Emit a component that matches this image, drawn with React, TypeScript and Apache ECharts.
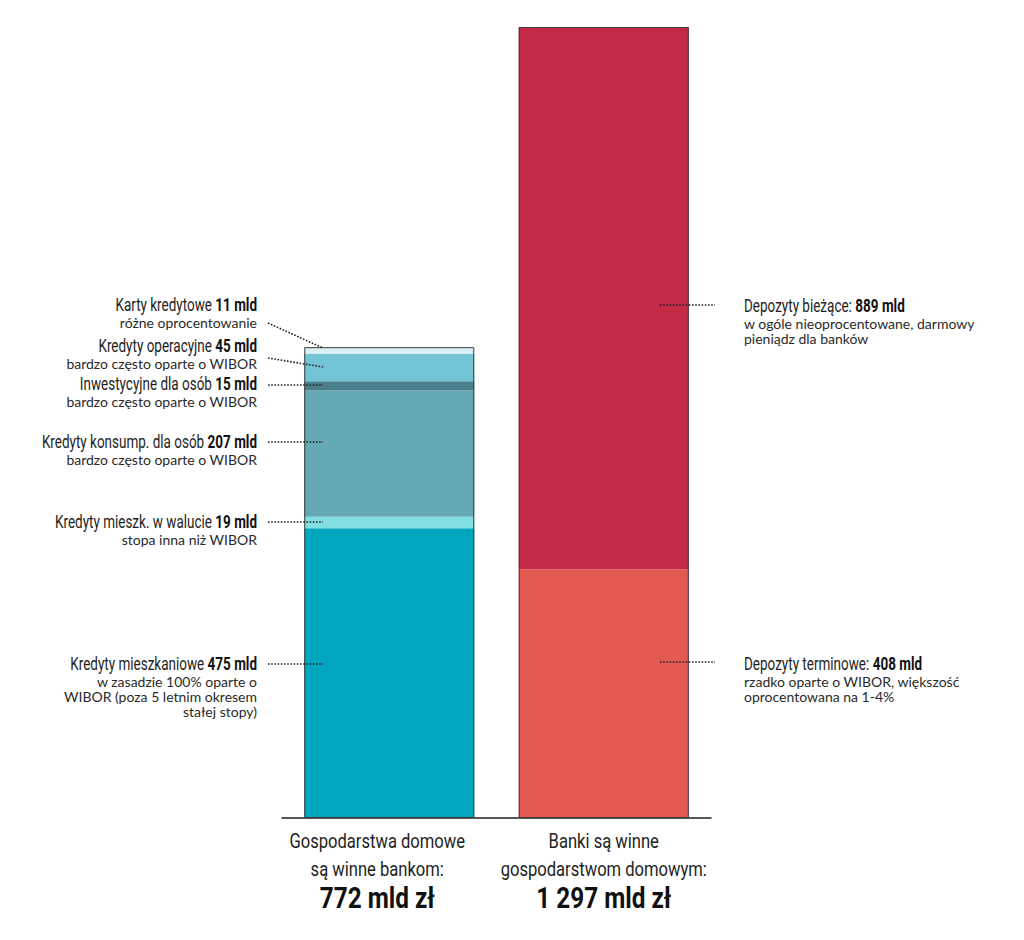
import React, { useEffect, useRef } from "react";
import * as echarts from "echarts";

// ---- data ----
const barCategories = ["Gospodarstwa domowe\nsą winne bankom:", "Banki są winne\ngospodarstwom domowym:"];
const totals = [772, 1297];

const leftNames = [
  "Kredyty mieszkaniowe",
  "Kredyty mieszk. w walucie",
  "Kredyty konsump. dla osób",
  "Inwestycyjne dla osób",
  "Kredyty operacyjne",
  "Karty kredytowe",
];
const leftValues = [475, 19, 207, 15, 45, 11];
const leftNotes = [
  ["w zasadzie 100% oparte o", "WIBOR (poza 5 letnim okresem", "stałej stopy)"],
  ["stopa inna niż WIBOR"],
  ["bardzo często oparte o WIBOR"],
  ["bardzo często oparte o WIBOR"],
  ["bardzo często oparte o WIBOR"],
  ["różne oprocentowanie"],
];

const rightNames = ["Depozyty terminowe:", "Depozyty bieżące:"];
const rightValues = [408, 889];
const rightNotes = [
  ["rzadko oparte o WIBOR, większość", "oprocentowana na 1-4%"],
  ["w ogóle nieoprocentowane, darmowy", "pieniądz dla banków"],
];

// ---- styling / layout (not data) ----
const leftColors = ["#00a6bd", "#82dfe2", "#65a9b5", "#4a7f8c", "#73c5d6", "#d9f1f5"];
const rightColors = ["#e35a52", "#c42a46"];
// annotation layout: title centre y, leader line [x1,y1,x2,y2]
const leftLayout = [
  { ty: 664, line: [268, 664, 323, 664] },
  { ty: 522, line: [268, 522, 323, 522] },
  { ty: 442, line: [268, 442, 323, 442] },
  { ty: 384, line: [268, 385, 323, 385] },
  { ty: 346, line: [268, 358, 323, 367] },
  { ty: 305, line: [268, 323, 323, 348] },
];
const rightLayout = [
  { ty: 664, line: [660, 662, 715, 662] },
  { ty: 306, line: [660, 305, 715, 305] },
];
const bottomOffsets = [-12, 0];

const COND = 'Roboto, "DejaVu Sans", sans-serif';
const LATO = 'Lato, "Open Sans", sans-serif';
const INK = "#1e1e1e";
const TITLE_SCALE = 0.75;
const BOTTOM_SCALE = 0.79;
const TOTAL_SCALE = 0.84;

function fmt(n: number) {
  return String(n).replace(/\B(?=(\d{3})+(?!\d))/g, " ");
}

export default function App() {
  const ref = useRef<HTMLDivElement>(null);
  useEffect(() => {
    document.body.style.margin = "0";
    const chart = echarts.init(ref.current!, null, { renderer: "svg" });

    const series: any[] = [];
    leftValues.forEach((v, i) => {
      series.push({
        type: "bar",
        name: leftNames[i],
        stack: "s",
        barWidth: 170,
        barGap: "-100%",
        data: [v, "-"],
        itemStyle: { color: leftColors[i] },
        silent: true,
      });
    });
    rightValues.forEach((v, i) => {
      series.push({
        type: "bar",
        name: rightNames[i],
        stack: "s",
        barWidth: 170,
        barGap: "-100%",
        data: ["-", v],
        itemStyle: { color: rightColors[i] },
        silent: true,
      });
    });
    series.push({
      type: "bar",
      name: "outline",
      barWidth: 170,
      barGap: "-100%",
      data: totals,
      z: 10,
      silent: true,
      itemStyle: { color: "rgba(0,0,0,0)", borderColor: "#3a3a3a", borderWidth: 1 },
    });

    chart.setOption({
      animation: false,
      grid: { left: 282, right: 313, top: 27, bottom: 122 },
      xAxis: {
        type: "category",
        data: barCategories,
        axisTick: { show: false },
        axisLine: { lineStyle: { color: "#222", width: 1.5 } },
        axisLabel: { show: false },
      },
      yAxis: { type: "value", min: 0, max: 1297, show: false, splitLine: { show: false } },
      series,
    });

    const graphic: any[] = [];
    const titleRich = {
      a: { fontFamily: COND, fontSize: 18, fontWeight: "normal", fill: INK, color: INK },
      b: { fontFamily: COND, fontSize: 18, fontWeight: "bold", fill: "#111", color: "#111" },
    };
    const addAnno = (
      name: string,
      value: number,
      notes: string[],
      lay: { ty: number; line: number[] },
      x: number,
      align: string
    ) => {
      graphic.push({
        type: "text",
        x,
        y: lay.ty,
        scaleX: TITLE_SCALE,
        silent: true,
        style: {
          text: `{a|${name} }{b|${value} mld}`,
          rich: titleRich,
          align,
          verticalAlign: "middle",
        },
      });
      notes.forEach((n, k) => {
        graphic.push({
          type: "text",
          x,
          y: lay.ty + 17 + k * 15,
          silent: true,
          style: {
            text: n,
            fontFamily: LATO,
            fontSize: 14,
            fill: "#2a2a2a",
            align,
            verticalAlign: "middle",
          },
        });
      });
      graphic.push({
        type: "line",
        silent: true,
        z: 100,
        shape: { x1: lay.line[0], y1: lay.line[1], x2: lay.line[2], y2: lay.line[3] },
        style: { stroke: "#222", lineWidth: 1.6, lineDash: [1.6, 1.6] },
      });
    };
    leftValues.forEach((v, i) => addAnno(leftNames[i], v, leftNotes[i], leftLayout[i], 257, "right"));
    rightValues.forEach((v, i) => addAnno(rightNames[i], v, rightNotes[i], rightLayout[i], 744, "left"));

    // bottom category labels, placed at the axis' own band centres
    barCategories.forEach((c, i) => {
      const cx = (chart.convertToPixel({ xAxisIndex: 0 }, i) as number) + bottomOffsets[i];
      const lines = c.split("\n");
      lines.forEach((l, k) => {
        graphic.push({
          type: "text",
          x: cx,
          y: 841 + k * 28,
          scaleX: BOTTOM_SCALE,
          silent: true,
          style: { text: l, fontFamily: COND, fontSize: 21, fill: INK, align: "center", verticalAlign: "middle" },
        });
      });
      graphic.push({
        type: "text",
        x: cx,
        y: 898,
        scaleX: TOTAL_SCALE,
        silent: true,
        style: {
          text: `${fmt(totals[i])} mld zł`,
          fontFamily: COND,
          fontSize: 29,
          fontWeight: "bold",
          fill: "#111",
          align: "center",
          verticalAlign: "middle",
        },
      });
    });

    chart.setOption({ graphic });
    return () => chart.dispose();
  }, []);
  return <div ref={ref} style={{ width: 1024, height: 940 }} />;
}
